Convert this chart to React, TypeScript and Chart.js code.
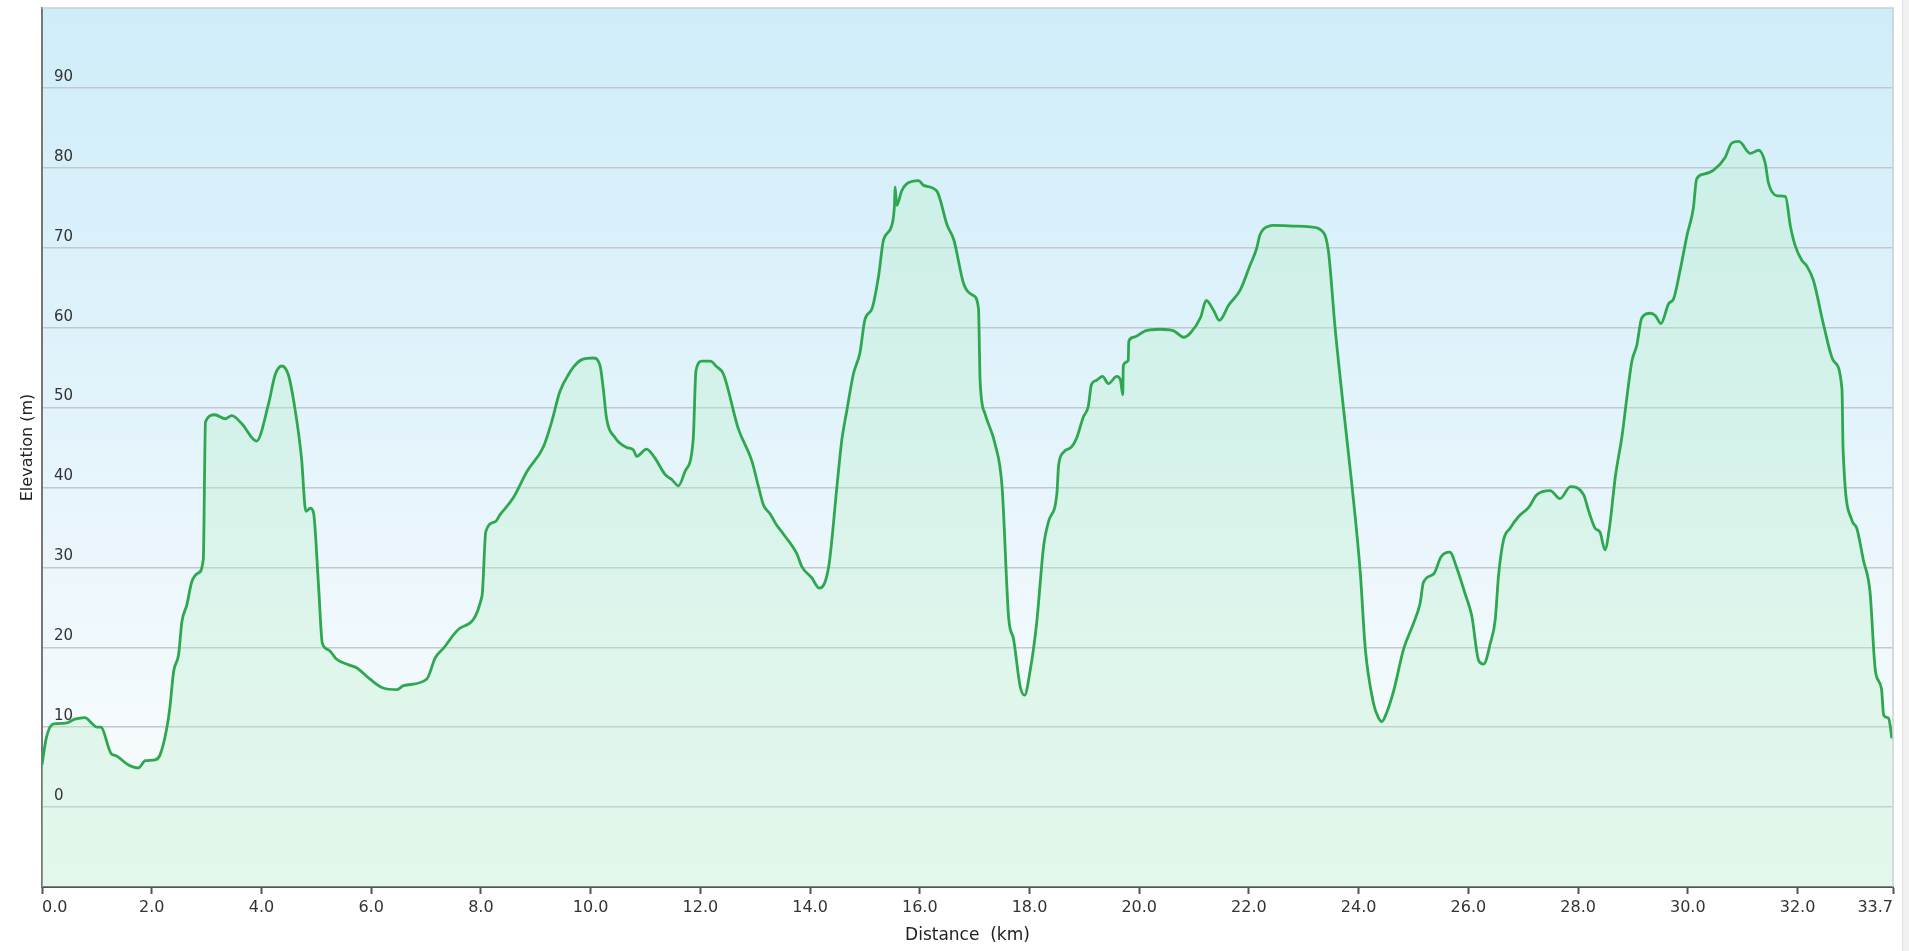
import React, { useEffect, useRef } from "react";
import { Chart, registerables } from "chart.js";

Chart.register(...registerables);

const distanceKm: number[] = [
  0.0, 0.08, 0.21, 0.43, 0.6, 0.78, 0.92, 1.0, 1.07, 1.26, 1.36, 1.57, 1.76, 1.88, 2.06, 2.15,
  2.27, 2.33, 2.4, 2.49, 2.55, 2.64, 2.73, 2.85, 2.94, 2.98, 3.15, 3.34, 3.46, 3.64, 3.91, 4.13,
  4.25, 4.37, 4.49, 4.61, 4.73, 4.81, 4.89, 4.95, 5.04, 5.11, 5.22, 5.37, 5.59, 5.74, 5.98, 6.22,
  6.47, 6.59, 7.01, 7.17, 7.32, 7.62, 8.02, 8.09, 8.26, 8.35, 8.59, 8.84, 9.14, 9.29, 9.44, 9.63,
  9.69, 9.84, 10.05, 10.17, 10.23, 10.29, 10.45, 10.66, 10.78, 10.84, 11.02, 11.17, 11.36, 11.48,
  11.6, 11.72, 11.87, 11.92, 12.03, 12.18, 12.3, 12.42, 12.69, 12.94, 13.06, 13.15, 13.27, 13.39,
  13.51, 13.76, 13.85, 14.03, 14.17, 14.34, 14.49, 14.58, 14.67, 14.79, 14.91, 15.0, 15.13, 15.25,
  15.34, 15.49, 15.54, 15.55, 15.58, 15.67, 15.76, 15.98, 16.07, 16.31, 16.5, 16.62, 16.8, 16.98,
  17.07, 17.1, 17.19, 17.37, 17.5, 17.62, 17.71, 17.83, 17.91, 18.01, 18.13, 18.26, 18.35, 18.5,
  18.53, 18.62, 18.77, 18.86, 18.98, 19.07, 19.13, 19.22, 19.33, 19.44, 19.59, 19.66, 19.7, 19.71,
  19.8, 19.81, 19.9, 20.11, 20.38, 20.63, 20.81, 20.93, 21.12, 21.22, 21.36, 21.46, 21.63, 21.84,
  22.02, 22.14, 22.2, 22.36, 22.45, 22.87, 23.12, 23.36, 23.45, 23.57, 23.72, 23.88, 24.03, 24.12,
  24.27, 24.36, 24.42, 24.51, 24.64, 24.82, 25.0, 25.12, 25.18, 25.37, 25.5, 25.66, 25.79, 25.94,
  26.06, 26.19, 26.28, 26.4, 26.49, 26.55, 26.64, 26.76, 26.92, 27.1, 27.25, 27.49, 27.67, 27.86,
  28.1, 28.19, 28.31, 28.4, 28.49, 28.57, 28.68, 28.8, 28.89, 28.98, 29.07, 29.16, 29.32, 29.41,
  29.51, 29.65, 29.74, 29.86, 29.99, 30.1, 30.16, 30.29, 30.47, 30.68, 30.8, 30.93, 31.14, 31.29,
  31.41, 31.47, 31.63, 31.78, 31.87, 31.96, 32.08, 32.17, 32.29, 32.48, 32.66, 32.81, 32.83, 32.99,
  33.08, 33.2, 33.32, 33.42, 33.53, 33.57, 33.66, 33.72,
];

const elevationM: number[] = [
  5.3, 8.7, 10.4, 10.5, 11.0, 11.2, 10.4, 10.0, 10.0, 6.7, 6.4, 5.3, 4.9, 5.8, 5.9, 6.5,
  9.7, 12.4, 17.0, 19.1, 23.2, 25.3, 28.2, 29.3, 31.0, 48.2, 49.1, 48.6, 49.0, 48.0, 45.8, 50.5,
  54.1, 55.2, 54.1, 49.9, 43.7, 37.0, 37.4, 36.8, 27.8, 20.5, 19.7, 18.5, 17.8, 17.4, 16.0, 14.9,
  14.7, 15.2, 16.0, 18.7, 19.9, 22.4, 26.4, 34.5, 35.7, 36.6, 38.7, 42.0, 45.1, 48.2, 52.0, 54.5,
  55.1, 56.0, 56.2, 55.3, 52.4, 48.7, 46.2, 45.0, 44.7, 43.9, 44.8, 43.7, 41.6, 41.0,
  40.2, 42.0, 46.0, 54.6, 55.8, 55.8, 55.1, 54.2, 47.4, 43.3, 40.1, 37.8, 36.7, 35.3,
  34.2, 31.7, 30.1, 28.7, 27.4, 30.1, 40.1, 46.0, 49.6, 54.2, 56.9, 61.0, 62.4, 66.5,
  71.0, 72.8, 75.5, 77.6, 75.3, 77.1, 78.0, 78.4, 77.8, 77.1, 72.8, 71.0, 65.5, 64.0,
  62.4, 53.3, 49.2, 45.5, 40.1, 23.7, 21.0, 15.1, 14.0, 17.0, 23.0, 32.8, 35.8, 39.3,
  42.7, 44.4, 45.1, 46.2, 48.8, 50.1, 52.9, 53.4, 53.9, 53.0, 53.9, 53.4, 51.6, 55.3,
  55.9, 58.3, 58.8, 59.6, 59.8, 59.6, 58.8, 59.3, 61.3, 63.4, 62.1, 60.9, 62.8, 64.7,
  67.8, 69.9, 71.6, 72.7, 72.8, 72.7, 72.6, 71.9, 69.5, 60.0, 50.1, 40.1, 29.3, 19.9,
  13.0, 11.2, 10.7, 11.8, 14.6, 19.8, 23.0, 25.5, 28.1, 29.2, 31.3, 31.9, 29.9, 26.7,
  24.0, 18.3, 17.9, 20.5, 23.5, 29.0, 33.4, 34.9, 36.4, 37.5, 39.1, 39.6, 38.6, 40.1,
  39.1, 37.1, 34.9, 34.4, 32.2, 34.9, 41.4, 46.4, 51.3, 55.8, 57.8, 61.2, 61.8, 61.5,
  60.5, 63.0, 63.6, 67.2, 71.7, 74.9, 78.6, 79.2, 79.7, 81.3, 83.1, 83.3, 81.8, 82.2,
  80.6, 78.1, 76.5, 76.4, 72.7, 70.2, 68.4, 67.7, 65.9, 60.2, 55.8, 52.3, 44.8, 35.9,
  34.9, 30.9, 27.0, 17.0, 14.8, 11.5, 11.1, 8.6,
];

const xTickValues: number[] = [0, 2, 4, 6, 8, 10, 12, 14, 16, 18, 20, 22, 24, 26, 28, 30, 32, 33.74];
const xMax = 33.74;
const yMin = -10;
const yMax = 100;
const yLabelValues: number[] = [0, 10, 20, 30, 40, 50, 60, 70, 80, 90];

const FONT = "'DejaVu Sans', Verdana, sans-serif";

const plotBackground = {
  id: "plotBackground",
  beforeDraw(chart: any) {
    const { ctx, chartArea } = chart;
    if (!chartArea) return;
    const { left, top, right, bottom } = chartArea;
    const g = ctx.createLinearGradient(0, top, 0, bottom);
    g.addColorStop(0, "#cfedf9");
    g.addColorStop(0.45, "#e2f3fb");
    g.addColorStop(0.8, "#f4fafd");
    g.addColorStop(1, "#f8fcfd");
    ctx.save();
    ctx.fillStyle = g;
    ctx.fillRect(left, top, right - left, bottom - top);
    ctx.restore();
  },
  afterDatasetsDraw(chart: any) {
    const { ctx, chartArea } = chart;
    const y = chart.scales.y;
    if (!chartArea || !y) return;
    ctx.save();
    ctx.fillStyle = "#333";
    ctx.font = `15px ${FONT}`;
    ctx.textAlign = "left";
    ctx.textBaseline = "middle";
    for (const v of yLabelValues) {
      const py = y.getPixelForValue(v);
      ctx.fillText(String(v), chartArea.left + 12, py - 11);
    }
    ctx.restore();
  },
  afterDraw(chart: any) {
    const { ctx, chartArea } = chart;
    if (!chartArea) return;
    const { left, top, right, bottom } = chartArea;
    ctx.save();
    ctx.strokeStyle = "#c9ced1";
    ctx.lineWidth = 1.5;
    ctx.beginPath();
    ctx.moveTo(left, top);
    ctx.lineTo(right, top);
    ctx.lineTo(right, bottom);
    ctx.stroke();
    ctx.restore();
  },
};

export default function App() {
  const ref = useRef<HTMLCanvasElement | null>(null);

  useEffect(() => {
    if (!ref.current) return;
    const points = distanceKm.map((d, i) => ({ x: d, y: elevationM[i] }));
    const chart = new Chart(ref.current, {
      type: "line",
      data: {
        datasets: [
          {
            label: "Elevation",
            data: points,
            borderColor: "#2ea84e",
            borderWidth: 2.8,
            backgroundColor: "rgba(185, 240, 200, 0.32)",
            fill: "start",
            pointRadius: 0,
            cubicInterpolationMode: "monotone",
          },
        ],
      },
      options: {
        animation: false,
        responsive: true,
        maintainAspectRatio: false,
        layout: { padding: { top: 8, right: 7, left: 0, bottom: 0 } },
        plugins: { legend: { display: false }, tooltip: { enabled: false } },
        scales: {
          x: {
            type: "linear",
            min: 0,
            max: xMax,
            afterBuildTicks(scale: any) {
              scale.ticks = xTickValues.map((v) => ({ value: v }));
            },
            afterFit(scale: any) {
              scale.height = 64;
              scale.paddingLeft = 0;
              scale.paddingRight = 0;
            },
            ticks: {
              autoSkip: false,
              maxRotation: 0,
              padding: 4,
              align: "inner",
              color: "#333",
              font: { family: FONT, size: 16 },
              callback: (v: any) => Number(v).toFixed(1),
            },
            grid: {
              drawOnChartArea: false,
              drawTicks: true,
              tickLength: 7,
              tickColor: "#555",
              tickWidth: 2,
            },
            border: { color: "#555", width: 2 },
            title: {
              display: true,
              text: "Distance  (km)",
              color: "#222",
              font: { family: FONT, size: 17 },
              padding: { top: 0, bottom: 5 },
            },
          },
          y: {
            type: "linear",
            min: yMin,
            max: yMax,
            afterFit(scale: any) {
              scale.width = 42;
              scale.paddingTop = 0;
              scale.paddingBottom = 0;
            },
            ticks: {
              stepSize: 10,
              display: false,
            },
            grid: {
              color: (c: any) => (c.tick && (c.tick.value <= yMin || c.tick.value >= yMax) ? "rgba(0,0,0,0)" : "#c2c9cc"),
              lineWidth: 1.5,
              drawTicks: false,
            },
            border: { color: "#777", width: 2 },
            title: {
              display: true,
              text: "Elevation (m)",
              color: "#222",
              font: { family: FONT, size: 16 },
              padding: { top: 18, bottom: 0 },
            },
          },
        },
      },
      plugins: [plotBackground],
    });
    return () => chart.destroy();
  }, []);

  return (
    <div style={{ position: "absolute", left: 0, top: 0, width: 1909, height: 951, background: "#fff" }}>
      <div style={{ position: "absolute", left: 0, top: 0, width: 1900, height: 951 }}>
        <canvas ref={ref} />
      </div>
      <div
        style={{
          position: "absolute",
          left: 1902,
          top: 0,
          width: 7,
          height: 951,
          background: "#f1f1f1",
          borderLeft: "1px solid #e2e2e2",
          boxSizing: "border-box",
        }}
      />
    </div>
  );
}
